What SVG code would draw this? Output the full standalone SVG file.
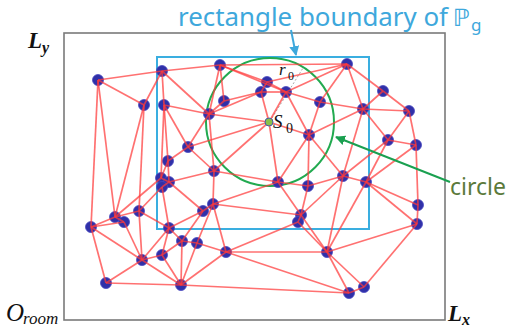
<svg xmlns="http://www.w3.org/2000/svg" width="507" height="332" viewBox="0 0 507 332">
<style>
.nd{fill:#3030a8;stroke:#4848c0;stroke-width:0.8}
.ed line{stroke:#ff3a3a;stroke-opacity:0.72;stroke-width:1.7}
.ttl{font-family:"Noto Sans","Open Sans",sans-serif;fill:#3ea8dc}
.mth{font-family:"Liberation Serif",serif;font-style:italic;fill:#111}
.dg{font-family:"Liberation Serif",serif;font-style:normal;fill:#111}
</style>
<defs>
<marker id="ab" viewBox="0 0 10 10" refX="9" refY="5" markerWidth="5" markerHeight="5" orient="auto"><path d="M0,0 L10,5 L0,10 z" fill="#3ea8dc"/></marker>
<marker id="ag" viewBox="0 0 10 10" refX="9" refY="5" markerWidth="5" markerHeight="5" orient="auto"><path d="M0,0 L10,5 L0,10 z" fill="#1aa050"/></marker>
</defs>
<rect width="507" height="332" fill="#fff"/>
<rect id="room" x="64" y="33" width="381" height="287" fill="none" stroke="#7a7a7a" stroke-width="1.6"/>
<g id="labels">
<text class="ttl" x="178" y="26" font-size="25" textLength="270" lengthAdjust="spacingAndGlyphs">rectangle boundary of</text>
<text x="453" y="26" font-size="24" font-family="DejaVu Sans,sans-serif" fill="#3ea8dc">ℙ</text>
<text class="ttl" x="471" y="31" font-size="17">g</text>
<text class="mth" x="28" y="48" font-size="23" font-weight="bold">L</text>
<text class="mth" x="42" y="53" font-size="16" font-weight="bold">y</text>
<text class="mth" x="448" y="321" font-size="23" font-weight="bold">L</text>
<text class="mth" x="462" y="325" font-size="16" font-weight="bold">x</text>
<text class="mth" x="6" y="321" font-size="25">O</text>
<text class="mth" x="23" y="324" font-size="17">room</text>
<text x="450" y="195" font-size="23" font-family="Noto Sans,Open Sans,sans-serif" fill="#5b7a3b">circle</text>
</g>
<g id="boundary">
<rect x="157" y="57" width="212" height="172" fill="none" stroke="#3aaee0" stroke-width="2"/>
</g>
<g id="circle">
<circle cx="270" cy="122" r="64" fill="none" stroke="#22aa50" stroke-width="2"/>
<line x1="272" y1="118" x2="303" y2="68" stroke="#aaa" stroke-width="1" stroke-dasharray="2,2"/>
</g>
<g id="nodes">
<g id="nA"><circle class="nd" cx="98" cy="80" r="5.5"/></g>
<g id="nB"><circle class="nd" cx="162" cy="71" r="5.5"/></g>
<g id="nC"><circle class="nd" cx="220" cy="65" r="5.5"/></g>
<g id="nD"><circle class="nd" cx="347" cy="64" r="5.5"/></g>
<g id="nE"><circle class="nd" cx="267" cy="82" r="5.5"/></g>
<g id="nF"><circle class="nd" cx="261" cy="92" r="5.5"/></g>
<g id="nF2"><circle class="nd" cx="286" cy="92" r="5.5"/></g>
<g id="nG"><circle class="nd" cx="383" cy="91" r="5.5"/></g>
<g id="nH"><circle class="nd" cx="144" cy="105" r="5.5"/></g>
<g id="nI"><circle class="nd" cx="164" cy="105" r="5.5"/></g>
<g id="nJ"><circle class="nd" cx="224" cy="101" r="5.5"/></g>
<g id="nK"><circle class="nd" cx="209" cy="114" r="5.5"/></g>
<g id="nL"><circle class="nd" cx="320" cy="102" r="5.5"/></g>
<g id="nM"><circle class="nd" cx="363" cy="109" r="5.5"/></g>
<g id="nN"><circle class="nd" cx="409" cy="111" r="5.5"/></g>
<g id="nO"><circle class="nd" cx="309" cy="135" r="5.5"/></g>
<g id="nP"><circle class="nd" cx="188" cy="147" r="5.5"/></g>
<g id="nQ"><circle class="nd" cx="388" cy="140" r="5.5"/></g>
<g id="nR"><circle class="nd" cx="416" cy="145" r="5.5"/></g>
<g id="nT"><circle class="nd" cx="168" cy="161" r="5.5"/></g>
<g id="nU"><circle class="nd" cx="214" cy="171" r="5.5"/></g>
<g id="nV1"><circle class="nd" cx="161" cy="178" r="5.5"/></g>
<g id="nV2"><circle class="nd" cx="169" cy="182" r="5.5"/></g>
<g id="nV3"><circle class="nd" cx="162" cy="187" r="5.5"/></g>
<g id="na"><circle class="nd" cx="278" cy="182" r="5.5"/></g>
<g id="nb"><circle class="nd" cx="308" cy="186" r="5.5"/></g>
<g id="nc"><circle class="nd" cx="343" cy="176" r="5.5"/></g>
<g id="nd"><circle class="nd" cx="366" cy="182" r="5.5"/></g>
<g id="nW"><circle class="nd" cx="139" cy="211" r="5.5"/></g>
<g id="nX"><circle class="nd" cx="115" cy="217" r="5.5"/></g>
<g id="nY"><circle class="nd" cx="124" cy="222" r="5.5"/></g>
<g id="nZ"><circle class="nd" cx="91" cy="227" r="5.5"/></g>
<g id="nAA"><circle class="nd" cx="213" cy="204" r="5.5"/></g>
<g id="nAB"><circle class="nd" cx="203" cy="211" r="5.5"/></g>
<g id="nAC"><circle class="nd" cx="169" cy="228" r="5.5"/></g>
<g id="ne"><circle class="nd" cx="301" cy="215" r="5.5"/></g>
<g id="nf"><circle class="nd" cx="298" cy="222" r="5.5"/></g>
<g id="ng"><circle class="nd" cx="418" cy="205" r="5.5"/></g>
<g id="nh"><circle class="nd" cx="417" cy="224" r="5.5"/></g>
<g id="nAD"><circle class="nd" cx="182" cy="241" r="5.5"/></g>
<g id="nAE"><circle class="nd" cx="197" cy="243" r="5.5"/></g>
<g id="nAF"><circle class="nd" cx="162" cy="255" r="5.5"/></g>
<g id="nAG"><circle class="nd" cx="142" cy="260" r="5.5"/></g>
<g id="nAH"><circle class="nd" cx="226" cy="252" r="5.5"/></g>
<g id="ni"><circle class="nd" cx="327" cy="252" r="5.5"/></g>
<g id="nAI"><circle class="nd" cx="106" cy="283" r="5.5"/></g>
<g id="nAJ"><circle class="nd" cx="181" cy="285" r="5.5"/></g>
<g id="nj"><circle class="nd" cx="349" cy="293" r="5.5"/></g>
<g id="nk"><circle class="nd" cx="364" cy="287" r="5.5"/></g>
</g>
<g id="connectors" class="ed">
<line x1="98" y1="80" x2="162" y2="71"/><line x1="98" y1="80" x2="144" y2="105"/><line x1="98" y1="80" x2="91" y2="227"/><line x1="98" y1="80" x2="115" y2="217"/>
<line x1="162" y1="71" x2="220" y2="65"/><line x1="162" y1="71" x2="144" y2="105"/><line x1="162" y1="71" x2="164" y2="105"/><line x1="162" y1="71" x2="209" y2="114"/>
<line x1="220" y1="65" x2="347" y2="64"/><line x1="220" y1="65" x2="267" y2="82"/><line x1="220" y1="65" x2="286" y2="92"/><line x1="220" y1="65" x2="224" y2="101"/><line x1="220" y1="65" x2="209" y2="114"/>
<line x1="347" y1="64" x2="267" y2="82"/><line x1="347" y1="64" x2="286" y2="92"/><line x1="347" y1="64" x2="320" y2="102"/><line x1="347" y1="64" x2="363" y2="109"/><line x1="347" y1="64" x2="383" y2="91"/>
<line x1="267" y1="82" x2="261" y2="92"/><line x1="267" y1="82" x2="286" y2="92"/>
<line x1="261" y1="92" x2="286" y2="92"/><line x1="261" y1="92" x2="224" y2="101"/><line x1="261" y1="92" x2="209" y2="114"/><line x1="261" y1="92" x2="269" y2="122"/>
<line x1="286" y1="92" x2="269" y2="122"/><line x1="286" y1="92" x2="320" y2="102"/><line x1="286" y1="92" x2="309" y2="135"/>
<line x1="224" y1="101" x2="209" y2="114"/>
<line x1="209" y1="114" x2="269" y2="122"/><line x1="209" y1="114" x2="188" y2="147"/><line x1="209" y1="114" x2="214" y2="171"/><line x1="164" y1="105" x2="209" y2="114"/>
<line x1="320" y1="102" x2="363" y2="109"/><line x1="320" y1="102" x2="309" y2="135"/>
<line x1="363" y1="109" x2="383" y2="91"/><line x1="383" y1="91" x2="409" y2="111"/><line x1="363" y1="109" x2="409" y2="111"/><line x1="363" y1="109" x2="309" y2="135"/><line x1="363" y1="109" x2="388" y2="140"/><line x1="363" y1="109" x2="343" y2="176"/>
<line x1="409" y1="111" x2="388" y2="140"/><line x1="409" y1="111" x2="416" y2="145"/><line x1="388" y1="140" x2="416" y2="145"/>
<line x1="309" y1="135" x2="269" y2="122"/><line x1="309" y1="135" x2="278" y2="182"/><line x1="309" y1="135" x2="308" y2="186"/><line x1="309" y1="135" x2="343" y2="176"/>
<line x1="144" y1="105" x2="115" y2="217"/><line x1="144" y1="105" x2="139" y2="211"/><line x1="164" y1="105" x2="161" y2="178"/><line x1="164" y1="105" x2="168" y2="161"/><line x1="164" y1="105" x2="188" y2="147"/>
<line x1="188" y1="147" x2="168" y2="161"/><line x1="188" y1="147" x2="214" y2="171"/><line x1="188" y1="147" x2="269" y2="122"/>
<line x1="168" y1="161" x2="161" y2="178"/><line x1="168" y1="161" x2="169" y2="182"/>
<line x1="214" y1="171" x2="169" y2="182"/><line x1="214" y1="171" x2="213" y2="204"/><line x1="214" y1="171" x2="278" y2="182"/><line x1="214" y1="171" x2="269" y2="122"/>
<line x1="269" y1="122" x2="278" y2="182"/>
<line x1="161" y1="178" x2="115" y2="217"/><line x1="162" y1="187" x2="139" y2="211"/><line x1="169" y1="182" x2="203" y2="211"/><line x1="162" y1="187" x2="169" y2="228"/><line x1="161" y1="178" x2="169" y2="182"/><line x1="169" y1="182" x2="162" y2="187"/>
<line x1="278" y1="182" x2="308" y2="186"/><line x1="278" y1="182" x2="301" y2="215"/><line x1="278" y1="182" x2="213" y2="204"/>
<line x1="308" y1="186" x2="343" y2="176"/><line x1="308" y1="186" x2="301" y2="215"/>
<line x1="343" y1="176" x2="366" y2="182"/><line x1="343" y1="176" x2="388" y2="140"/><line x1="343" y1="176" x2="301" y2="215"/><line x1="343" y1="176" x2="327" y2="252"/>
<line x1="366" y1="182" x2="388" y2="140"/><line x1="366" y1="182" x2="416" y2="145"/><line x1="366" y1="182" x2="418" y2="205"/><line x1="366" y1="182" x2="417" y2="224"/><line x1="366" y1="182" x2="327" y2="252"/>
<line x1="416" y1="145" x2="418" y2="205"/><line x1="418" y1="205" x2="417" y2="224"/><line x1="417" y1="224" x2="327" y2="252"/><line x1="417" y1="224" x2="364" y2="287"/>
<line x1="301" y1="215" x2="298" y2="222"/><line x1="301" y1="215" x2="327" y2="252"/><line x1="298" y1="222" x2="327" y2="252"/><line x1="298" y1="222" x2="226" y2="252"/><line x1="301" y1="215" x2="213" y2="204"/>
<line x1="327" y1="252" x2="349" y2="293"/><line x1="327" y1="252" x2="364" y2="287"/><line x1="349" y1="293" x2="364" y2="287"/><line x1="327" y1="252" x2="226" y2="252"/><line x1="349" y1="293" x2="226" y2="252"/><line x1="349" y1="293" x2="181" y2="285"/>
<line x1="91" y1="227" x2="115" y2="217"/><line x1="91" y1="227" x2="124" y2="222"/><line x1="91" y1="227" x2="106" y2="283"/><line x1="91" y1="227" x2="142" y2="260"/>
<line x1="115" y1="217" x2="139" y2="211"/><line x1="115" y1="217" x2="124" y2="222"/><line x1="124" y1="222" x2="142" y2="260"/><line x1="139" y1="211" x2="142" y2="260"/><line x1="139" y1="211" x2="169" y2="228"/>
<line x1="142" y1="260" x2="169" y2="228"/><line x1="142" y1="260" x2="162" y2="255"/><line x1="142" y1="260" x2="181" y2="285"/><line x1="142" y1="260" x2="106" y2="283"/><line x1="106" y1="283" x2="181" y2="285"/>
<line x1="169" y1="228" x2="162" y2="255"/><line x1="169" y1="228" x2="182" y2="241"/><line x1="169" y1="228" x2="203" y2="211"/><line x1="162" y1="255" x2="182" y2="241"/><line x1="162" y1="255" x2="181" y2="285"/>
<line x1="182" y1="241" x2="181" y2="285"/><line x1="182" y1="241" x2="197" y2="243"/><line x1="182" y1="241" x2="203" y2="211"/><line x1="197" y1="243" x2="181" y2="285"/><line x1="197" y1="243" x2="226" y2="252"/><line x1="197" y1="243" x2="213" y2="204"/>
<line x1="226" y1="252" x2="181" y2="285"/><line x1="226" y1="252" x2="213" y2="204"/><line x1="213" y1="204" x2="203" y2="211"/>
<line x1="291" y1="30" x2="296" y2="55" style="stroke:#3ea8dc;stroke-opacity:1;stroke-width:2" marker-end="url(#ab)"/>
<line x1="450" y1="182" x2="336" y2="137" style="stroke:#1aa050;stroke-opacity:1;stroke-width:2" marker-end="url(#ag)"/>
</g>
<g id="nS0">
<circle cx="269" cy="122" r="4" fill="#8cc04a" stroke="#4a5aa8" stroke-width="1"/>
<text class="mth" x="273" y="128" font-size="19">S</text>
<text class="dg" x="286" y="133" font-size="14">0</text>
</g>
<g id="r0">
<text class="mth" x="279" y="75" font-size="17">r</text>
<text class="dg" x="288" y="80" font-size="12">0</text>
</g>
</svg>
